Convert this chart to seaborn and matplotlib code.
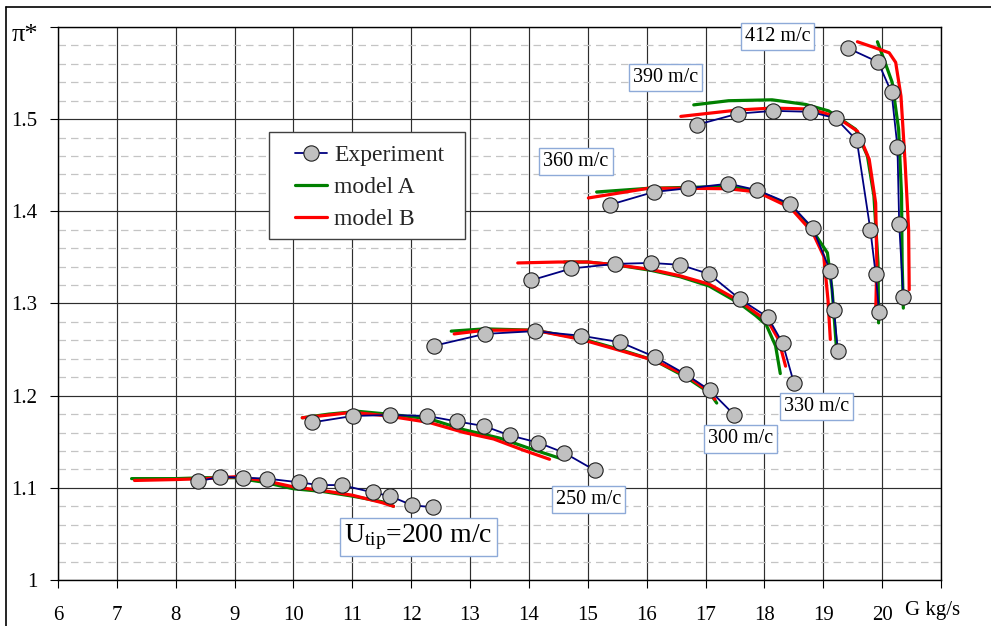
import matplotlib
matplotlib.use("Agg")
import numpy as np
import pandas as pd
import seaborn as sns
import matplotlib.pyplot as plt
from matplotlib.lines import Line2D
from matplotlib.patches import Rectangle

# ---------------- data ----------------
speeds = ["200", "250", "300", "330", "360", "390", "412"]

exp_200_G = [8.37, 8.76, 9.15, 9.55, 10.09, 10.44, 10.82, 11.35, 11.64, 12.02, 12.37]
exp_200_pi = [1.107, 1.112, 1.111, 1.110, 1.106, 1.103, 1.103, 1.095, 1.091, 1.081, 1.079]
exp_250_G = [10.32, 11.01, 11.64, 12.27, 12.78, 13.24, 13.67, 14.16, 14.60, 15.12]
exp_250_pi = [1.171, 1.178, 1.179, 1.178, 1.172, 1.167, 1.157, 1.149, 1.138, 1.119]
exp_300_G = [12.38, 13.25, 14.10, 14.89, 15.55, 16.14, 16.67, 17.07, 17.49]
exp_300_pi = [1.254, 1.267, 1.270, 1.265, 1.258, 1.242, 1.223, 1.206, 1.179]
exp_330_G = [14.03, 14.72, 15.47, 16.07, 16.57, 17.06, 17.58, 18.06, 18.31, 18.50]
exp_330_pi = [1.325, 1.338, 1.343, 1.344, 1.342, 1.332, 1.305, 1.285, 1.257, 1.214]
exp_360_G = [15.37, 16.12, 16.70, 17.39, 17.88, 18.44, 18.82, 19.12, 19.18, 19.25]
exp_360_pi = [1.407, 1.421, 1.425, 1.430, 1.423, 1.408, 1.382, 1.335, 1.293, 1.248]
exp_390_G = [16.86, 17.55, 18.15, 18.78, 19.21, 19.57, 19.80, 19.89, 19.95]
exp_390_pi = [1.494, 1.506, 1.509, 1.508, 1.501, 1.477, 1.380, 1.332, 1.291]
exp_412_G = [19.42, 19.93, 20.16, 20.26, 20.29, 20.36]
exp_412_pi = [1.577, 1.562, 1.529, 1.470, 1.386, 1.307]

A_200_G = [7.25, 8.0, 8.5, 9.0, 9.5, 10.0, 10.5, 11.0, 11.5, 11.70]
A_200_pi = [1.110, 1.110, 1.111, 1.111, 1.106, 1.099, 1.096, 1.091, 1.085, 1.080]
A_250_G = [10.15, 10.6, 11.1, 11.6, 12.3, 12.9, 13.5, 14.0, 14.53]
A_250_pi = [1.176, 1.180, 1.183, 1.180, 1.175, 1.163, 1.154, 1.143, 1.132]
A_300_G = [12.68, 13.25, 14.10, 14.89, 15.55, 16.14, 16.67, 17.07, 17.19]
A_300_pi = [1.270, 1.2725, 1.271, 1.262, 1.250, 1.238, 1.220, 1.203, 1.192]
A_330_G = [14.6, 15.0, 15.47, 16.07, 16.57, 17.06, 17.58, 17.85, 18.03, 18.19, 18.27]
A_330_pi = [1.345, 1.345, 1.342, 1.336, 1.329, 1.319, 1.300, 1.287, 1.277, 1.254, 1.224]
A_360_G = [15.15, 16.03, 16.70, 17.39, 17.88, 18.44, 18.82, 19.07, 19.15, 19.22]
A_360_pi = [1.421, 1.425, 1.426, 1.427, 1.422, 1.406, 1.379, 1.355, 1.315, 1.255]
A_390_G = [16.80, 17.39, 18.13, 18.70, 19.09, 19.55, 19.75, 19.86, 19.93, 19.94]
A_390_pi = [1.5155, 1.520, 1.521, 1.516, 1.509, 1.489, 1.460, 1.417, 1.344, 1.279]
A_412_G = [19.92, 20.03, 20.17, 20.28, 20.33, 20.34, 20.36]
A_412_pi = [1.584, 1.565, 1.540, 1.489, 1.417, 1.344, 1.295]

B_200_G = [7.30, 8.0, 8.5, 9.0, 9.5, 10.0, 10.5, 11.0, 11.5, 11.70]
B_200_pi = [1.108, 1.109, 1.110, 1.112, 1.108, 1.101, 1.097, 1.092, 1.084, 1.080]
B_250_G = [10.15, 10.6, 11.0, 11.6, 12.3, 12.9, 13.4, 13.9, 14.35]
B_250_pi = [1.176, 1.179, 1.182, 1.178, 1.171, 1.160, 1.153, 1.141, 1.131]
B_300_G = [12.73, 13.25, 14.10, 14.89, 15.55, 16.14, 16.67, 17.07, 17.16]
B_300_pi = [1.267, 1.271, 1.271, 1.261, 1.249, 1.238, 1.222, 1.204, 1.196]
B_330_G = [13.81, 14.5, 15.0, 15.47, 16.07, 16.57, 17.06, 17.58, 17.85, 18.06, 18.24, 18.36]
B_330_pi = [1.344, 1.345, 1.345, 1.342, 1.337, 1.330, 1.321, 1.3025, 1.290, 1.281, 1.261, 1.232]
B_360_G = [15.01, 16.03, 16.70, 17.39, 17.88, 18.44, 18.82, 19.01, 19.08, 19.12]
B_360_pi = [1.4145, 1.425, 1.425, 1.4245, 1.421, 1.404, 1.377, 1.351, 1.304, 1.261]
B_390_G = [16.58, 17.56, 18.13, 18.78, 19.21, 19.58, 19.78, 19.89, 19.91, 19.89]
B_390_pi = [1.503, 1.510, 1.512, 1.511, 1.503, 1.487, 1.4565, 1.409, 1.344, 1.288]
B_412_G = [19.58, 19.90, 20.12, 20.23, 20.32, 20.39, 20.45, 20.46]
B_412_pi = [1.584, 1.577, 1.572, 1.5616, 1.525, 1.453, 1.380, 1.315]

speed_labels = ["412 m/c", "390 m/c", "360 m/c", "330 m/c", "300 m/c", "250 m/c"]
utip_label = r"U$_{\mathrm{tip}}$=200 m/c"
legend_labels = ["Experiment", "model A", "model B"]
x_ticks = list(range(6, 22))
x_tick_labels = [str(v) for v in range(6, 21)] + [""]
y_ticks = [1.0, 1.1, 1.2, 1.3, 1.4, 1.5, 1.6]
y_tick_labels = ["1", "1.1", "1.2", "1.3", "1.4", "1.5", ""]

# ---------------- tables ----------------
def build(prefix):
    g = globals()
    parts = []
    for s in speeds:
        parts.append(pd.DataFrame({"G": g[f"{prefix}_{s}_G"],
                                   "pi": g[f"{prefix}_{s}_pi"],
                                   "speed": s}))
    return pd.concat(parts, ignore_index=True)

df_exp = build("exp")
df_A = build("A")
df_B = build("B")

# ---------------- style ----------------
sns.set_theme(style="white")
plt.rcParams["font.family"] = ["Liberation Serif", "DejaVu Serif"]
plt.rcParams["mathtext.fontset"] = "custom"
plt.rcParams["mathtext.rm"] = "Liberation Serif"
plt.rcParams["mathtext.it"] = "Liberation Serif:italic"

W, H = 991, 626
fig = plt.figure(figsize=(W / 100, H / 100), dpi=100)
fig.patch.set_facecolor("white")
ax = fig.add_axes([58 / W, 1 - 580 / H, 883 / W, 553 / H])

GREEN, RED, NAVY = "#008000", "#FF0000", "#000080"

sns.lineplot(data=df_A, x="G", y="pi", units="speed", estimator=None, sort=False,
             color=GREEN, lw=2.3, ax=ax, zorder=3, legend=False)
sns.lineplot(data=df_B, x="G", y="pi", units="speed", estimator=None, sort=False,
             color=RED, lw=2.3, ax=ax, zorder=4, legend=False)
sns.lineplot(data=df_exp, x="G", y="pi", units="speed", estimator=None, sort=False,
             color=NAVY, lw=1.3, marker="o", markersize=11,
             markerfacecolor="#C0C0C0", markeredgecolor="#202020",
             markeredgewidth=0.8, ax=ax, zorder=5, legend=False)

ax.set_xlim(6, 21)
ax.set_ylim(1.0, 1.6)
ax.set_xticks(x_ticks)
ax.set_xticklabels(x_tick_labels)
ax.set_yticks(y_ticks)
ax.set_yticklabels(y_tick_labels)
minor = [round(1.0 + 0.02 * i, 2) for i in range(31) if i % 5 != 0]
ax.set_yticks(minor, minor=True)
ax.set_xlabel("")
ax.set_ylabel("")

ax.set_axisbelow(True)
ax.grid(which="major", axis="both", color="#2e2e2e", lw=0.85)
ax.grid(which="minor", axis="y", color="#c4c4c4", lw=0.9, ls=(0, (6, 4)))
ax.tick_params(which="major", direction="out", length=6, width=0.8, color="black",
               labelsize=15, labelcolor="black")
ax.tick_params(axis="x", pad=12.5)
ax.tick_params(axis="y", pad=9)
ax.tick_params(which="minor", length=0)
ax.tick_params(bottom=True, left=True)
for sp in ax.spines.values():
    sp.set_color("black")
    sp.set_linewidth(1.0)

# axis labels
ax.text(-0.037, 0.985, "π*", transform=ax.transAxes, ha="center", va="center",
        fontsize=19, color="black")
ax.text(0.99, -0.056, "G kg/s", transform=ax.transAxes, ha="center", va="center",
        fontsize=15, color="black", clip_on=False)

# speed labels
label_pos = [(18.22, 1.5899), (16.315, 1.5448), (14.80, 1.4543),
             (18.88, 1.188), (17.588, 1.153), (15.012, 1.0875)]
box = dict(boxstyle="square,pad=0.2", fc="white", ec="#8eaad8", lw=1.0)
for txt, (gx, py) in zip(speed_labels, label_pos):
    ax.text(gx, py, txt, ha="center", va="center", fontsize=14.5, color="black",
            bbox=box, zorder=6)
ax.text(12.124, 1.0462, utip_label, ha="center", va="center", fontsize=20,
        color="black", zorder=6,
        bbox=dict(boxstyle="square,pad=0.15", fc="white", ec="#8eaad8", lw=1.0))

# legend (frame drawn separately so its padding matches the reference)
AW, AH = 883.0, 553.0
lx0, ly0, lx1, ly1 = 269.3, 132.3, 465.3, 239.3
ax.add_patch(Rectangle(((lx0 - 58) / AW, (580 - ly1) / AH), (lx1 - lx0) / AW,
                       (ly1 - ly0) / AH, transform=ax.transAxes, fc="white",
                       ec="#404040", lw=1.0, zorder=6.5, clip_on=False))
handles = [
    Line2D([], [], color=NAVY, lw=1.3, marker="o", ms=11, mfc="#C0C0C0",
           mec="#202020", mew=0.8),
    Line2D([], [], color=GREEN, lw=2.3),
    Line2D([], [], color=RED, lw=2.3),
]
leg = ax.legend(handles, legend_labels, loc="center left",
                bbox_to_anchor=((295 - 58) / AW, (580 - 187.5) / AH), borderaxespad=0,
                fontsize=17, frameon=False, handlelength=1.35,
                handletextpad=0.3, labelspacing=0.45, borderpad=0.0)
leg.set_zorder(7)

# outer chart border (top and left visible)
fig.add_artist(Line2D([6 / W, 1.0], [1 - 7 / H, 1 - 7 / H], transform=fig.transFigure,
                      color="black", lw=1.2))
fig.add_artist(Line2D([6 / W, 6 / W], [0.0, 1 - 7 / H], transform=fig.transFigure,
                      color="black", lw=1.2))

fig.savefig("out.png", dpi=100, facecolor="white")
